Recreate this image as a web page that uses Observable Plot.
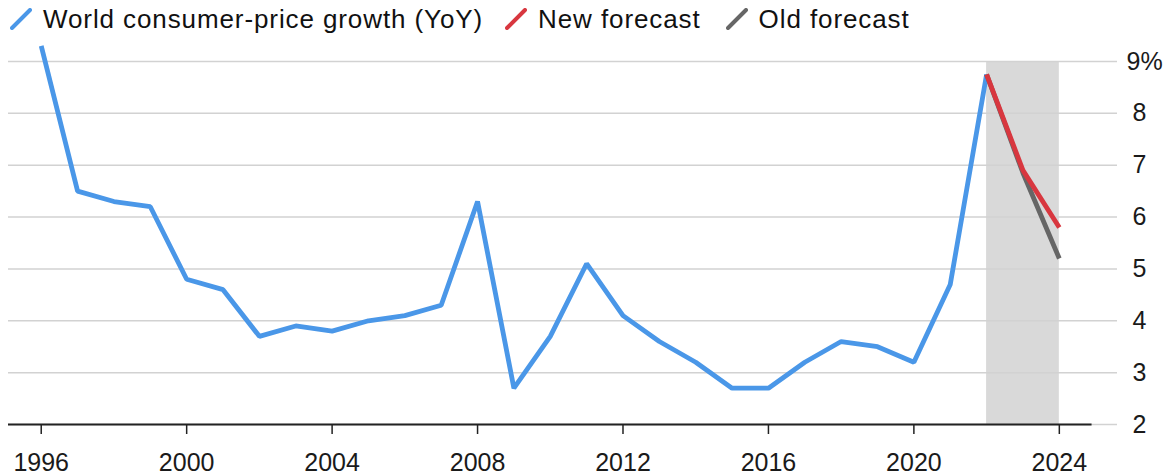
<!DOCTYPE html>
<html><head><meta charset="utf-8">
<script src="https://cdn.jsdelivr.net/npm/d3@7"></script>
<script src="https://cdn.jsdelivr.net/npm/@observablehq/plot@0.6"></script>
<style>
body{margin:0;background:#fff;font-family:"Liberation Sans",Arial,sans-serif;}
#legend{height:40px;position:relative;font-size:26px;color:#111;white-space:nowrap;letter-spacing:0.9px;}
#legend .row{position:absolute;top:6px;left:10px;display:flex;align-items:center;line-height:26px;}
#legend .item{display:flex;align-items:center;}
#legend svg{display:block;}
</style></head><body>
<div id="legend"><div class="row"></div></div>
<div id="chart"></div>
<script>
// Data
const years = [1996,1997,1998,1999,2000,2001,2002,2003,2004,2005,2006,2007,2008,2009,2010,2011,2012,2013,2014,2015,2016,2017,2018,2019,2020,2021,2022];
const cpiGrowth = [9.3,6.5,6.3,6.2,4.8,4.6,3.7,3.9,3.8,4.0,4.1,4.3,6.3,2.7,3.7,5.1,4.1,3.6,3.2,2.7,2.7,3.2,3.6,3.5,3.2,4.7,8.75];
const forecastYears = [2022,2023,2024];
const newForecast = [8.75,6.9,5.8];
const oldForecast = [8.75,6.85,5.2];
const shadeStart = 2022, shadeEnd = 2024;
const xTicks = [1996,2000,2004,2008,2012,2016,2020,2024];
const yTicks = [2,3,4,5,6,7,8,9];
const seriesNames = ["World consumer-price growth (YoY)","New forecast","Old forecast"];
const seriesColors = ["#4a97e8","#d8373f","#666666"];

const xDomain = [1995.1, 2025.6];
const axisEnd = 2024.9;

// Legend
const row = document.querySelector("#legend .row");
const gaps = [22, 25, 0];
seriesNames.forEach((name, i) => {
  const item = document.createElement("div");
  item.className = "item";
  item.style.marginRight = gaps[i] + "px";
  item.innerHTML = `<svg width="22" height="22" style="margin-right:11px"><line x1="2" y1="20" x2="20" y2="2" stroke="${seriesColors[i]}" stroke-width="4" stroke-linecap="round"/></svg><span>${name}</span>`;
  row.appendChild(item);
});

const cpiData = years.map((y, i) => ({year: y, value: cpiGrowth[i]}));
const newData = forecastYears.map((y, i) => ({year: y, value: newForecast[i]}));
const oldData = forecastYears.map((y, i) => ({year: y, value: oldForecast[i]}));
const shade = [{x1: shadeStart, x2: shadeEnd, y1: yTicks[0], y2: yTicks[yTicks.length - 1]}];

const chart = Plot.plot({
  width: 1169,
  height: 435,
  marginTop: 21,
  marginBottom: 51,
  marginLeft: 8,
  marginRight: 52,
  style: {fontFamily: '"Liberation Sans", Arial, sans-serif', fontSize: "25px", background: "#fff", color: "#1a1a1a"},
  x: {domain: xDomain},
  y: {domain: [yTicks[0], yTicks[yTicks.length - 1]]},
  marks: [
    Plot.rect(shade, {x1: "x1", x2: "x2", y1: "y1", y2: "y2", fill: "#d9d9d9"}),
    Plot.gridY(yTicks, {stroke: "#d2d2d2", strokeOpacity: 1, strokeWidth: 1.5}),
    Plot.ruleY([yTicks[0]], {x1: xDomain[0], x2: axisEnd, stroke: "#222", strokeWidth: 2}),
    Plot.axisX(xTicks, {tickSize: 10, tickPadding: 19, tickFormat: "d", stroke: "#222", strokeWidth: 1.5, fill: "#1a1a1a", fontSize: 25, label: null}),
    Plot.axisY(yTicks.filter(d => d < 9), {anchor: "right", tickSize: 0, tickPadding: 15, tickFormat: d => String(d), fill: "#1a1a1a", fontSize: 25, label: null}),
    Plot.axisY([9], {anchor: "right", tickSize: 0, tickPadding: 9, tickFormat: d => d + "%", fill: "#1a1a1a", fontSize: 25, label: null}),
    Plot.line(cpiData, {x: "year", y: "value", stroke: seriesColors[0], strokeWidth: 4.8, strokeLinejoin: "miter", strokeLinecap: "butt"}),
    Plot.line(oldData, {x: "year", y: "value", stroke: seriesColors[2], strokeWidth: 4.8, strokeLinejoin: "miter", strokeLinecap: "butt"}),
    Plot.line(newData, {x: "year", y: "value", stroke: seriesColors[1], strokeWidth: 4.8, strokeLinejoin: "miter", strokeLinecap: "butt"})
  ]
});
document.getElementById("chart").appendChild(chart);
</script>
</body></html>
